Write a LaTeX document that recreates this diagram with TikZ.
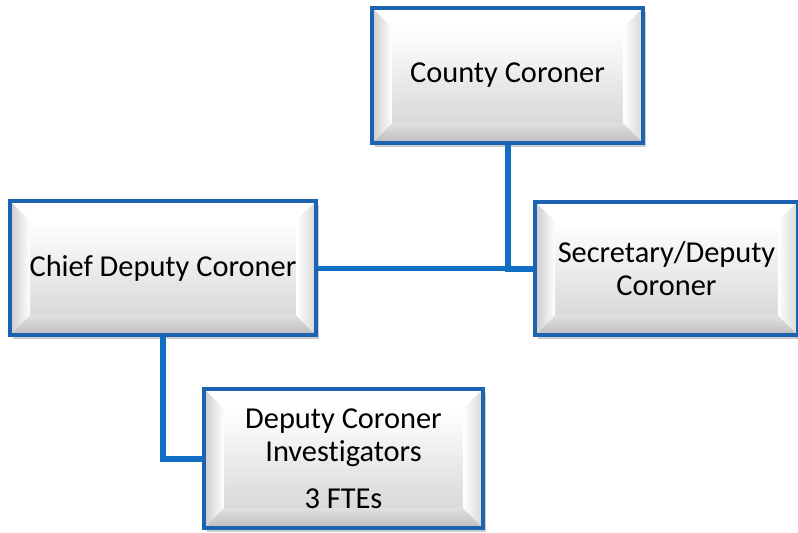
\documentclass[tikz,border=0pt]{standalone}
\usepackage{fontspec}
\setmainfont[Ligatures=NoCommon]{Carlito}
\usetikzlibrary{shadows}
\definecolor{boxblue}{RGB}{28,100,178}
\definecolor{lineblue}{RGB}{16,110,196}
\tikzset{
  bevel/.style={path picture={
    \path (path picture bounding box.south west) coordinate (bsw)
          (path picture bounding box.north east) coordinate (bne);
    \path ([shift={(15pt,15pt)}]bsw) coordinate (isw)
          ([shift={(-15pt,-15pt)}]bne) coordinate (ine);
    \shade[top color=white, bottom color=black!15] (isw) rectangle (ine);
    \fill[white] (bsw |- bne) -- (bne) -- (ine) -- (isw |- ine) -- cycle;
    \shade[top color=black!12, bottom color=black!26] (bsw) -- (bsw -| bne) -- (isw -| ine) -- (isw) -- cycle;
    \shade[left color=black!20, right color=white] (bsw) -- (isw) -- (isw |- ine) -- (bsw |- bne) -- cycle;
    \shade[left color=white, right color=black!16] (bne) -- (ine) -- (isw -| ine) -- (bsw -| bne) -- cycle;
  }},
  unit/.style={draw=boxblue, line width=3pt, bevel, inner sep=0pt, align=center,
    drop shadow={shadow xshift=2pt, shadow yshift=-3pt, opacity=0.4},
    font=\fontsize{22.8pt}{25pt}\selectfont},
  link/.style={draw=lineblue, line width=4.5pt}
}
\begin{document}
\begin{tikzpicture}[x=0.75pt,y=-0.75pt]
  \useasboundingbox (0,0) rectangle (798,532);
  \node[unit, minimum width=203pt, minimum height=101pt] (county) at (507.5,75.5) {County Coroner};
  \node[unit, minimum width=229.5pt, minimum height=100.5pt] (chief) at (163,268) {Chief Deputy Coroner};
  \node[unit, minimum width=197pt, minimum height=100pt] (secretary) at (666.5,268.5) {Secretary/Deputy\\Coroner};
  \node[unit, minimum width=209pt, minimum height=104pt] (investigators) at (343.5,458.5) {Deputy Coroner\\Investigators\\[10pt]3 FTEs};
  \draw[link, line width=3.75pt] (chief.east) -- (chief.east -| county.south);
  \draw[link] (county.south) |- (secretary.west);
  \draw[link] (chief.south) |- (investigators.west);
\end{tikzpicture}
\end{document}
